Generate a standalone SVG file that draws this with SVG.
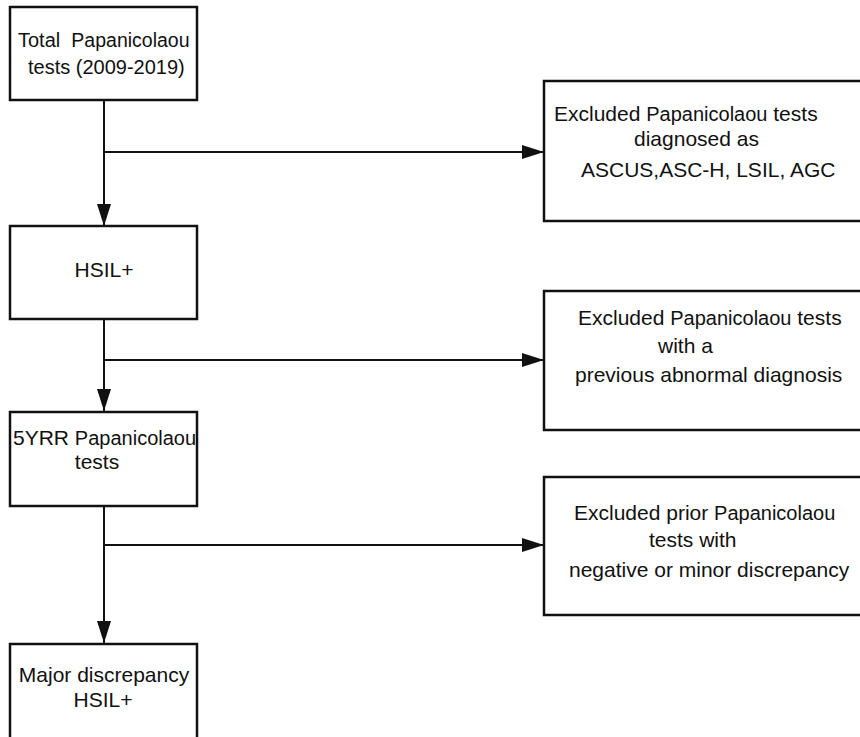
<svg xmlns="http://www.w3.org/2000/svg" width="860" height="737" viewBox="0 0 860 737">
<defs>
<style>
.box{fill:#fff;stroke:#111;stroke-width:2.5}
.t{font-family:"Liberation Sans",Arial,sans-serif;font-size:21px;fill:#111}
.p{font-size:20px}
.s{font-size:20px}
.ps{font-size:19.5px}
.c{fill:none;stroke:#111;stroke-width:2}
</style>
<marker id="ah" markerUnits="userSpaceOnUse" markerWidth="22" markerHeight="14" refX="22" refY="7" orient="auto">
<path d="M0,0 L22,7 L0,14 z" fill="#111"/>
</marker>
</defs>
<rect width="860" height="737" fill="#fff"/>
<g id="connectors">
<line class="c" x1="104" y1="100" x2="104" y2="226" marker-end="url(#ah)"/>
<line class="c" x1="104" y1="152" x2="544" y2="152" marker-end="url(#ah)"/>
<line class="c" x1="104" y1="319" x2="104" y2="411" marker-end="url(#ah)"/>
<line class="c" x1="104" y1="360" x2="544" y2="360" marker-end="url(#ah)"/>
<line class="c" x1="104" y1="506" x2="104" y2="643" marker-end="url(#ah)"/>
<line class="c" x1="104" y1="545" x2="544" y2="545" marker-end="url(#ah)"/>
</g>
<g id="total">
<rect class="box" x="10" y="7" width="187" height="93"/>
<text class="t s" x="18" y="47">Total&#160; <tspan class="ps">Papanicolaou</tspan></text>
<text class="t s" x="28" y="74">tests (2009-2019)</text>
</g>
<g id="hsil">
<rect class="box" x="10" y="226" width="187" height="93"/>
<text class="t" x="104" y="277" text-anchor="middle">HSIL+</text>
</g>
<g id="fiveyrr">
<rect class="box" x="10" y="412" width="187" height="94"/>
<text class="t" x="13" y="445">5YRR <tspan class="p">Papanicolaou</tspan></text>
<text class="t" x="97" y="469" text-anchor="middle">tests</text>
</g>
<g id="major">
<rect class="box" x="10" y="644" width="187" height="100"/>
<text class="t" x="104" y="682" text-anchor="middle">Major discrepancy</text>
<text class="t" x="103" y="707" text-anchor="middle">HSIL+</text>
</g>
<g id="excl1">
<rect class="box" x="544" y="81" width="330" height="140"/>
<text class="t" x="554" y="121">Excluded <tspan class="p">Papanicolaou</tspan> tests</text>
<text class="t" x="634" y="146">diagnosed as</text>
<text class="t" x="581" y="177">ASCUS,ASC-H, LSIL, AGC</text>
</g>
<g id="excl2">
<rect class="box" x="544" y="291" width="330" height="139"/>
<text class="t" x="578" y="325">Excluded <tspan class="p">Papanicolaou</tspan> tests</text>
<text class="t" x="658" y="353">with a</text>
<text class="t" x="575" y="382">previous abnormal diagnosis</text>
</g>
<g id="excl3">
<rect class="box" x="544" y="477" width="330" height="138"/>
<text class="t" x="574" y="520">Excluded prior <tspan class="p">Papanicolaou</tspan></text>
<text class="t" x="649" y="547">tests with</text>
<text class="t" x="569" y="577">negative or minor discrepancy</text>
</g>
</svg>
